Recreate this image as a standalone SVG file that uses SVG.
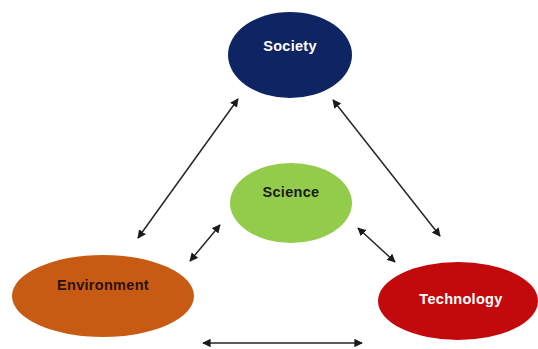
<svg xmlns="http://www.w3.org/2000/svg" width="538" height="349" viewBox="0 0 538 349">
  <style>
    .lbl { font-family: "Liberation Sans", Arial, sans-serif; font-weight: bold; font-size: 14.5px; letter-spacing: 0.3px; text-anchor: middle; }
    .light { fill: #ffffff; }
    .dark { fill: #1a1a1a; }
    .link { stroke: #262626; stroke-width: 1.5; fill: none; marker-start: url(#head); marker-end: url(#head); }
  </style>
  <defs>
    <marker id="head" viewBox="0 0 10 10" refX="9" refY="5" markerWidth="8.5" markerHeight="8.5" markerUnits="userSpaceOnUse" orient="auto-start-reverse">
      <path d="M0,0 L10,5 L0,10 Z" fill="#1a1a1a"/>
    </marker>
  </defs>
  <rect width="538" height="349" fill="#ffffff"/>

  <g id="connectors">
    <line class="link" x1="238" y1="99" x2="138" y2="238"/>
    <line class="link" x1="333" y1="100" x2="440" y2="236"/>
    <line class="link" x1="220" y1="225" x2="190" y2="261"/>
    <line class="link" x1="358" y1="228" x2="395" y2="262"/>
    <line class="link" x1="203" y1="343" x2="362" y2="343"/>
  </g>

  <g id="society">
    <ellipse cx="290" cy="55" rx="62" ry="43" fill="#0f2563"/>
    <text class="lbl light" x="290" y="51">Society</text>
  </g>

  <g id="science">
    <ellipse cx="291" cy="203" rx="61" ry="40" fill="#92cc4a"/>
    <text class="lbl dark" x="291" y="197">Science</text>
  </g>

  <g id="environment">
    <ellipse cx="103" cy="296" rx="91" ry="41" fill="#c85b14"/>
    <text class="lbl" fill="#2b1205" x="103" y="290">Environment</text>
  </g>

  <g id="technology">
    <ellipse cx="458" cy="301" rx="80" ry="39" fill="#c20a0c"/>
    <text class="lbl light" x="461" y="304">Technology</text>
  </g>
</svg>
